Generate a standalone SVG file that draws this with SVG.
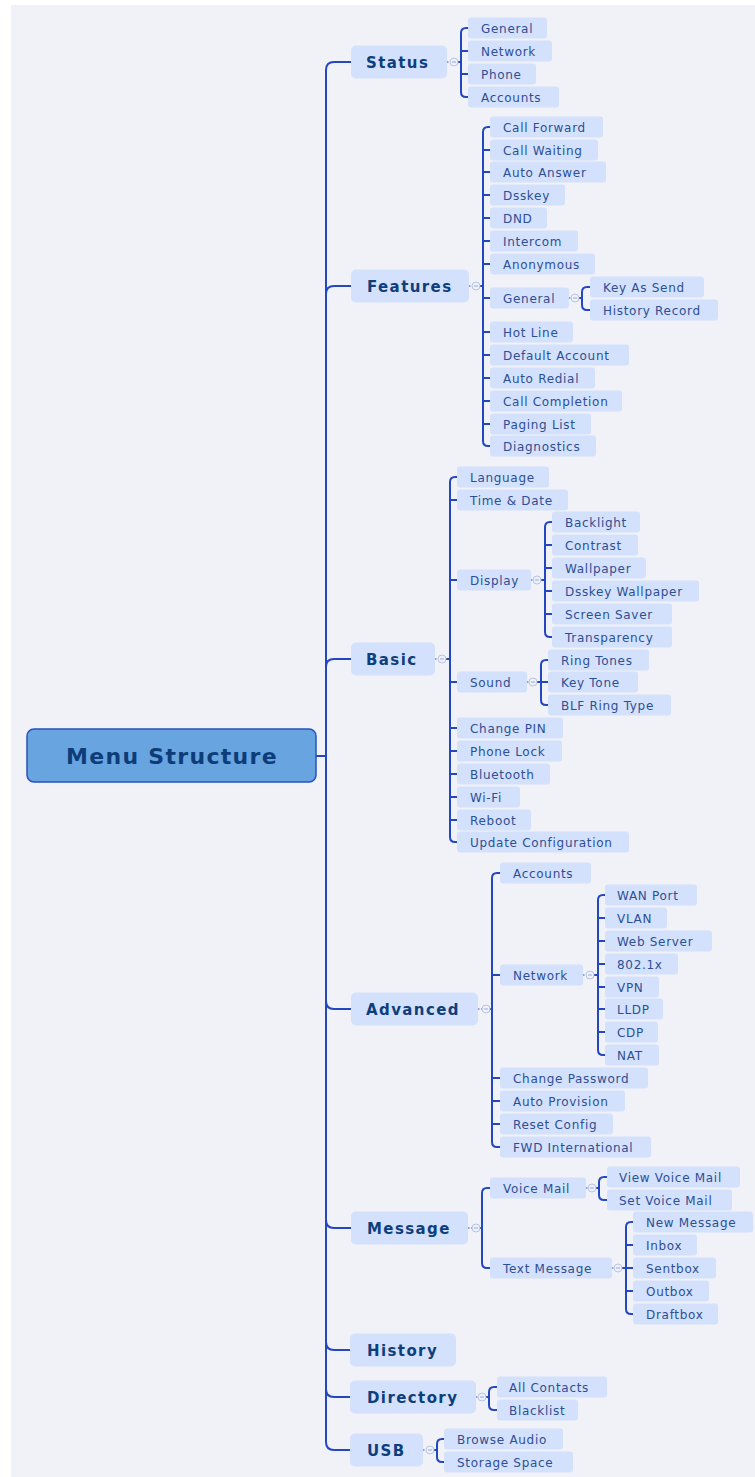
<svg xmlns="http://www.w3.org/2000/svg" xmlns:xlink="http://www.w3.org/1999/xlink" width="755" height="1477" viewBox="0 0 755 1477">
<style>
.lf{fill:#d4e1fc}
.mn{fill:#d4e1fc}
.lt{font-family:"DejaVu Sans",Verdana,sans-serif;font-size:12px;fill:#2d4f94;letter-spacing:0.7px}
.mt{font-family:"DejaVu Sans",Verdana,sans-serif;font-size:15px;font-weight:bold;fill:#0e3f7c;letter-spacing:1.4px}
.rt{font-family:"DejaVu Sans",Verdana,sans-serif;font-size:22px;font-weight:bold;fill:#0c3d78;letter-spacing:1.3px}
.ln{fill:none;stroke:#2347c0;stroke-width:2}
.dt{fill:none;stroke:#6f84cc;stroke-width:1.5;stroke-dasharray:1.5 1.5}
</style>
<defs>
<g id="col"><circle r="4" fill="#eef1fa" stroke="#b9c5e6" stroke-width="1"/><path d="M-2 0H2" stroke="#9aa8d4" stroke-width="1"/></g>
</defs>
<rect x="0" y="0" width="755" height="1477" fill="#ffffff"/>
<rect x="11" y="5" width="744" height="1472" fill="#f1f2f8"/>

<g id="connectors">
<path class="ln" d="M316 756H326"/>
<path class="ln" d="M351 62H334Q326 62 326 70V1442Q326 1450 334 1450H350"/>
<path class="ln" d="M326 294Q326 286 334 286H351"/>
<path class="ln" d="M326 667Q326 659 334 659H351"/>
<path class="ln" d="M326 1001Q326 1009 334 1009H351"/>
<path class="ln" d="M326 1220Q326 1228 334 1228H351"/>
<path class="ln" d="M326 1342Q326 1350 334 1350H350"/>
<path class="ln" d="M326 1389Q326 1397 334 1397H350"/>
<!-- Status -->
<path class="dt" d="M447 62H450"/><path class="ln" d="M458 62H461"/>
<path class="ln" d="M468 28H466Q461 28 461 33V92Q461 97 466 97H468M461 51H468M461 74H468"/>
<!-- Features -->
<path class="dt" d="M469 286H472"/><path class="ln" d="M480 286H483"/>
<path class="ln" d="M490 127H488Q483 127 483 132V441Q483 446 488 446H490M483 150H490M483 172H490M483 195H490M483 218H490M483 241H490M483 264H490M483 298H490M483 332H490M483 355H490M483 378H490M483 401H490M483 424H490"/>
<path class="dt" d="M569 298H571"/><path class="ln" d="M579 298H582"/>
<path class="ln" d="M590 287H587Q582 287 582 292V305Q582 310 587 310H590"/>
<!-- Basic -->
<path class="dt" d="M435 659H438"/><path class="ln" d="M446 659H450"/>
<path class="ln" d="M457 477H455Q450 477 450 482V837Q450 842 455 842H457M450 500H457M450 580H457M450 682H457M450 728H457M450 751H457M450 774H457M450 797H457M450 820H457"/>
<path class="dt" d="M531 580H533"/><path class="ln" d="M541 580H545"/>
<path class="ln" d="M552 522H550Q545 522 545 527V632Q545 637 550 637H552M545 545H552M545 568H552M545 591H552M545 614H552"/>
<path class="dt" d="M527 682H529"/><path class="ln" d="M537 682H541"/>
<path class="ln" d="M548 660H546Q541 660 541 665V700Q541 705 546 705H548M541 682H548"/>
<!-- Advanced -->
<path class="dt" d="M478 1009H482"/><path class="ln" d="M490 1009H492"/>
<path class="ln" d="M500 873H497Q492 873 492 878V1142Q492 1147 497 1147H500M492 975H500M492 1078H500M492 1101H500M492 1124H500"/>
<path class="dt" d="M583 975H586"/><path class="ln" d="M594 975H598"/>
<path class="ln" d="M605 895H603Q598 895 598 900V1050Q598 1055 603 1055H605M598 918H605M598 941H605M598 964H605M598 987H605M598 1009H605M598 1032H605"/>
<!-- Message -->
<path class="dt" d="M468 1228H472"/><path class="ln" d="M480 1228H482"/>
<path class="ln" d="M490 1188H487Q482 1188 482 1193V1263Q482 1268 487 1268H490"/>
<path class="dt" d="M586 1188H588"/><path class="ln" d="M596 1188H599"/>
<path class="ln" d="M607 1177H604Q599 1177 599 1182V1195Q599 1200 604 1200H607"/>
<path class="dt" d="M612 1268H614"/><path class="ln" d="M622 1268H626"/>
<path class="ln" d="M633 1222H631Q626 1222 626 1227V1309Q626 1314 631 1314H633M626 1245H633M626 1268H633M626 1291H633"/>
<!-- Directory -->
<path class="dt" d="M476 1397H478"/><path class="ln" d="M486 1397H489"/>
<path class="ln" d="M497 1387H494Q489 1387 489 1392V1405Q489 1410 494 1410H497"/>
<!-- USB -->
<path class="dt" d="M423 1450H426"/><path class="ln" d="M434 1450H437"/>
<path class="ln" d="M444 1439H442Q437 1439 437 1444V1457Q437 1462 442 1462H444"/>
<use xlink:href="#col" x="454" y="62"/>
<use xlink:href="#col" x="476" y="286"/>
<use xlink:href="#col" x="575" y="298"/>
<use xlink:href="#col" x="442" y="659"/>
<use xlink:href="#col" x="537" y="580"/>
<use xlink:href="#col" x="533" y="682"/>
<use xlink:href="#col" x="486" y="1009"/>
<use xlink:href="#col" x="590" y="975"/>
<use xlink:href="#col" x="476" y="1228"/>
<use xlink:href="#col" x="592" y="1188"/>
<use xlink:href="#col" x="618" y="1268"/>
<use xlink:href="#col" x="482" y="1397"/>
<use xlink:href="#col" x="430" y="1450"/>
</g>

<g id="root"><rect x="27" y="729" width="289" height="53" rx="7" fill="#68a4e0" stroke="#2752bf" stroke-width="1.5"/><text class="rt" x="172" y="764" text-anchor="middle">Menu Structure</text></g>

<g id="status"><rect class="mn" x="351" y="45.5" width="96" height="33" rx="5"/><text class="mt" x="366" y="67.5">Status</text></g>
<g id="features"><rect class="mn" x="351" y="269.5" width="118" height="33" rx="5"/><text class="mt" x="367" y="291.5">Features</text></g>
<g id="basic"><rect class="mn" x="351" y="642.5" width="84" height="33" rx="5"/><text class="mt" x="366" y="664.5">Basic</text></g>
<g id="advanced"><rect class="mn" x="351" y="992.5" width="127" height="33" rx="5"/><text class="mt" x="366" y="1014.5">Advanced</text></g>
<g id="message"><rect class="mn" x="351" y="1211.5" width="117" height="33" rx="5"/><text class="mt" x="367" y="1233.5">Message</text></g>
<g id="history"><rect class="mn" x="350" y="1333.5" width="106" height="33" rx="5"/><text class="mt" x="367" y="1355.5">History</text></g>
<g id="directory"><rect class="mn" x="350" y="1380.5" width="126" height="33" rx="5"/><text class="mt" x="367" y="1402.5">Directory</text></g>
<g id="usb"><rect class="mn" x="350" y="1433.5" width="73" height="33" rx="5"/><text class="mt" x="367" y="1455.5">USB</text></g>

<g id="st-general"><rect class="lf" x="468" y="17.5" width="79" height="21" rx="3"/><text class="lt" x="481" y="32.5">General</text></g>
<g id="st-network"><rect class="lf" x="468" y="40.5" width="84" height="21" rx="3"/><text class="lt" x="481" y="55.5">Network</text></g>
<g id="st-phone"><rect class="lf" x="468" y="63.5" width="68" height="21" rx="3"/><text class="lt" x="481" y="78.5">Phone</text></g>
<g id="st-accounts"><rect class="lf" x="468" y="86.5" width="91" height="21" rx="3"/><text class="lt" x="481" y="101.5">Accounts</text></g>

<g id="fe-callforward"><rect class="lf" x="490" y="116.5" width="113" height="21" rx="3"/><text class="lt" x="503" y="131.5">Call Forward</text></g>
<g id="fe-callwaiting"><rect class="lf" x="490" y="139.5" width="108" height="21" rx="3"/><text class="lt" x="503" y="154.5">Call Waiting</text></g>
<g id="fe-autoanswer"><rect class="lf" x="490" y="161.5" width="116" height="21" rx="3"/><text class="lt" x="503" y="176.5">Auto Answer</text></g>
<g id="fe-dsskey"><rect class="lf" x="490" y="184.5" width="75" height="21" rx="3"/><text class="lt" x="503" y="199.5">Dsskey</text></g>
<g id="fe-dnd"><rect class="lf" x="490" y="207.5" width="57" height="21" rx="3"/><text class="lt" x="503" y="222.5">DND</text></g>
<g id="fe-intercom"><rect class="lf" x="490" y="230.5" width="88" height="21" rx="3"/><text class="lt" x="503" y="245.5">Intercom</text></g>
<g id="fe-anonymous"><rect class="lf" x="490" y="253.5" width="105" height="21" rx="3"/><text class="lt" x="503" y="268.5">Anonymous</text></g>
<g id="fe-general"><rect class="lf" x="490" y="287.5" width="79" height="21" rx="3"/><text class="lt" x="503" y="302.5">General</text></g>
<g id="fe-keyassend"><rect class="lf" x="590" y="276.5" width="114" height="21" rx="3"/><text class="lt" x="603" y="291.5">Key As Send</text></g>
<g id="fe-historyrecord"><rect class="lf" x="590" y="299.5" width="128" height="21" rx="3"/><text class="lt" x="603" y="314.5">History Record</text></g>
<g id="fe-hotline"><rect class="lf" x="490" y="321.5" width="83" height="21" rx="3"/><text class="lt" x="503" y="336.5">Hot Line</text></g>
<g id="fe-defaultaccount"><rect class="lf" x="490" y="344.5" width="139" height="21" rx="3"/><text class="lt" x="503" y="359.5">Default Account</text></g>
<g id="fe-autoredial"><rect class="lf" x="490" y="367.5" width="105" height="21" rx="3"/><text class="lt" x="503" y="382.5">Auto Redial</text></g>
<g id="fe-callcompletion"><rect class="lf" x="490" y="390.5" width="132" height="21" rx="3"/><text class="lt" x="503" y="405.5">Call Completion</text></g>
<g id="fe-paginglist"><rect class="lf" x="490" y="413.5" width="101" height="21" rx="3"/><text class="lt" x="503" y="428.5">Paging List</text></g>
<g id="fe-diagnostics"><rect class="lf" x="490" y="435.5" width="106" height="21" rx="3"/><text class="lt" x="503" y="450.5">Diagnostics</text></g>

<g id="ba-language"><rect class="lf" x="457" y="466.5" width="92" height="21" rx="3"/><text class="lt" x="470" y="481.5">Language</text></g>
<g id="ba-timedate"><rect class="lf" x="457" y="489.5" width="111" height="21" rx="3"/><text class="lt" x="470" y="504.5">Time &amp; Date</text></g>
<g id="ba-display"><rect class="lf" x="457" y="569.5" width="74" height="21" rx="3"/><text class="lt" x="470" y="584.5">Display</text></g>
<g id="ba-backlight"><rect class="lf" x="552" y="511.5" width="88" height="21" rx="3"/><text class="lt" x="565" y="526.5">Backlight</text></g>
<g id="ba-contrast"><rect class="lf" x="552" y="534.5" width="86" height="21" rx="3"/><text class="lt" x="565" y="549.5">Contrast</text></g>
<g id="ba-wallpaper"><rect class="lf" x="552" y="557.5" width="94" height="21" rx="3"/><text class="lt" x="565" y="572.5">Wallpaper</text></g>
<g id="ba-dsskeywallpaper"><rect class="lf" x="552" y="580.5" width="147" height="21" rx="3"/><text class="lt" x="565" y="595.5">Dsskey Wallpaper</text></g>
<g id="ba-screensaver"><rect class="lf" x="552" y="603.5" width="120" height="21" rx="3"/><text class="lt" x="565" y="618.5">Screen Saver</text></g>
<g id="ba-transparency"><rect class="lf" x="552" y="626.5" width="120" height="21" rx="3"/><text class="lt" x="565" y="641.5">Transparency</text></g>
<g id="ba-sound"><rect class="lf" x="457" y="671.5" width="70" height="21" rx="3"/><text class="lt" x="470" y="686.5">Sound</text></g>
<g id="ba-ringtones"><rect class="lf" x="548" y="649.5" width="101" height="21" rx="3"/><text class="lt" x="561" y="664.5">Ring Tones</text></g>
<g id="ba-keytone"><rect class="lf" x="548" y="671.5" width="90" height="21" rx="3"/><text class="lt" x="561" y="686.5">Key Tone</text></g>
<g id="ba-blfringtype"><rect class="lf" x="548" y="694.5" width="123" height="21" rx="3"/><text class="lt" x="561" y="709.5">BLF Ring Type</text></g>
<g id="ba-changepin"><rect class="lf" x="457" y="717.5" width="106" height="21" rx="3"/><text class="lt" x="470" y="732.5">Change PIN</text></g>
<g id="ba-phonelock"><rect class="lf" x="457" y="740.5" width="105" height="21" rx="3"/><text class="lt" x="470" y="755.5">Phone Lock</text></g>
<g id="ba-bluetooth"><rect class="lf" x="457" y="763.5" width="93" height="21" rx="3"/><text class="lt" x="470" y="778.5">Bluetooth</text></g>
<g id="ba-wifi"><rect class="lf" x="457" y="786.5" width="63" height="21" rx="3"/><text class="lt" x="470" y="801.5">Wi-Fi</text></g>
<g id="ba-reboot"><rect class="lf" x="457" y="809.5" width="74" height="21" rx="3"/><text class="lt" x="470" y="824.5">Reboot</text></g>
<g id="ba-updateconfig"><rect class="lf" x="457" y="831.5" width="172" height="21" rx="3"/><text class="lt" x="470" y="846.5">Update Configuration</text></g>

<g id="ad-accounts"><rect class="lf" x="500" y="862.5" width="91" height="21" rx="3"/><text class="lt" x="513" y="877.5">Accounts</text></g>
<g id="ad-network"><rect class="lf" x="500" y="964.5" width="83" height="21" rx="3"/><text class="lt" x="513" y="979.5">Network</text></g>
<g id="ad-wanport"><rect class="lf" x="605" y="884.5" width="92" height="21" rx="3"/><text class="lt" x="617" y="899.5">WAN Port</text></g>
<g id="ad-vlan"><rect class="lf" x="605" y="907.5" width="62" height="21" rx="3"/><text class="lt" x="617" y="922.5">VLAN</text></g>
<g id="ad-webserver"><rect class="lf" x="605" y="930.5" width="107" height="21" rx="3"/><text class="lt" x="617" y="945.5">Web Server</text></g>
<g id="ad-8021x"><rect class="lf" x="605" y="953.5" width="73" height="21" rx="3"/><text class="lt" x="617" y="968.5">802.1x</text></g>
<g id="ad-vpn"><rect class="lf" x="605" y="976.5" width="54" height="21" rx="3"/><text class="lt" x="617" y="991.5">VPN</text></g>
<g id="ad-lldp"><rect class="lf" x="605" y="998.5" width="58" height="21" rx="3"/><text class="lt" x="617" y="1013.5">LLDP</text></g>
<g id="ad-cdp"><rect class="lf" x="605" y="1021.5" width="53" height="21" rx="3"/><text class="lt" x="617" y="1036.5">CDP</text></g>
<g id="ad-nat"><rect class="lf" x="605" y="1044.5" width="54" height="21" rx="3"/><text class="lt" x="617" y="1059.5">NAT</text></g>
<g id="ad-changepassword"><rect class="lf" x="500" y="1067.5" width="148" height="21" rx="3"/><text class="lt" x="513" y="1082.5">Change Password</text></g>
<g id="ad-autoprovision"><rect class="lf" x="500" y="1090.5" width="125" height="21" rx="3"/><text class="lt" x="513" y="1105.5">Auto Provision</text></g>
<g id="ad-resetconfig"><rect class="lf" x="500" y="1113.5" width="113" height="21" rx="3"/><text class="lt" x="513" y="1128.5">Reset Config</text></g>
<g id="ad-fwdinternational"><rect class="lf" x="500" y="1136.5" width="151" height="21" rx="3"/><text class="lt" x="513" y="1151.5">FWD International</text></g>

<g id="me-voicemail"><rect class="lf" x="490" y="1177.5" width="96" height="21" rx="3"/><text class="lt" x="503" y="1192.5">Voice Mail</text></g>
<g id="me-viewvoicemail"><rect class="lf" x="607" y="1166.5" width="133" height="21" rx="3"/><text class="lt" x="619" y="1181.5">View Voice Mail</text></g>
<g id="me-setvoicemail"><rect class="lf" x="607" y="1189.5" width="125" height="21" rx="3"/><text class="lt" x="619" y="1204.5">Set Voice Mail</text></g>
<g id="me-textmessage"><rect class="lf" x="490" y="1257.5" width="122" height="21" rx="3"/><text class="lt" x="503" y="1272.5">Text Message</text></g>
<g id="me-newmessage"><rect class="lf" x="633" y="1211.5" width="120" height="21" rx="3"/><text class="lt" x="646" y="1226.5">New Message</text></g>
<g id="me-inbox"><rect class="lf" x="633" y="1234.5" width="64" height="21" rx="3"/><text class="lt" x="646" y="1249.5">Inbox</text></g>
<g id="me-sentbox"><rect class="lf" x="633" y="1257.5" width="83" height="21" rx="3"/><text class="lt" x="646" y="1272.5">Sentbox</text></g>
<g id="me-outbox"><rect class="lf" x="633" y="1280.5" width="76" height="21" rx="3"/><text class="lt" x="646" y="1295.5">Outbox</text></g>
<g id="me-draftbox"><rect class="lf" x="633" y="1303.5" width="85" height="21" rx="3"/><text class="lt" x="646" y="1318.5">Draftbox</text></g>

<g id="di-allcontacts"><rect class="lf" x="497" y="1376.5" width="110" height="21" rx="3"/><text class="lt" x="509" y="1391.5">All Contacts</text></g>
<g id="di-blacklist"><rect class="lf" x="497" y="1399.5" width="81" height="21" rx="3"/><text class="lt" x="509" y="1414.5">Blacklist</text></g>

<g id="us-browseaudio"><rect class="lf" x="444" y="1428.5" width="119" height="21" rx="3"/><text class="lt" x="457" y="1443.5">Browse Audio</text></g>
<g id="us-storagespace"><rect class="lf" x="444" y="1451.5" width="129" height="21" rx="3"/><text class="lt" x="457" y="1466.5">Storage Space</text></g>
</svg>
